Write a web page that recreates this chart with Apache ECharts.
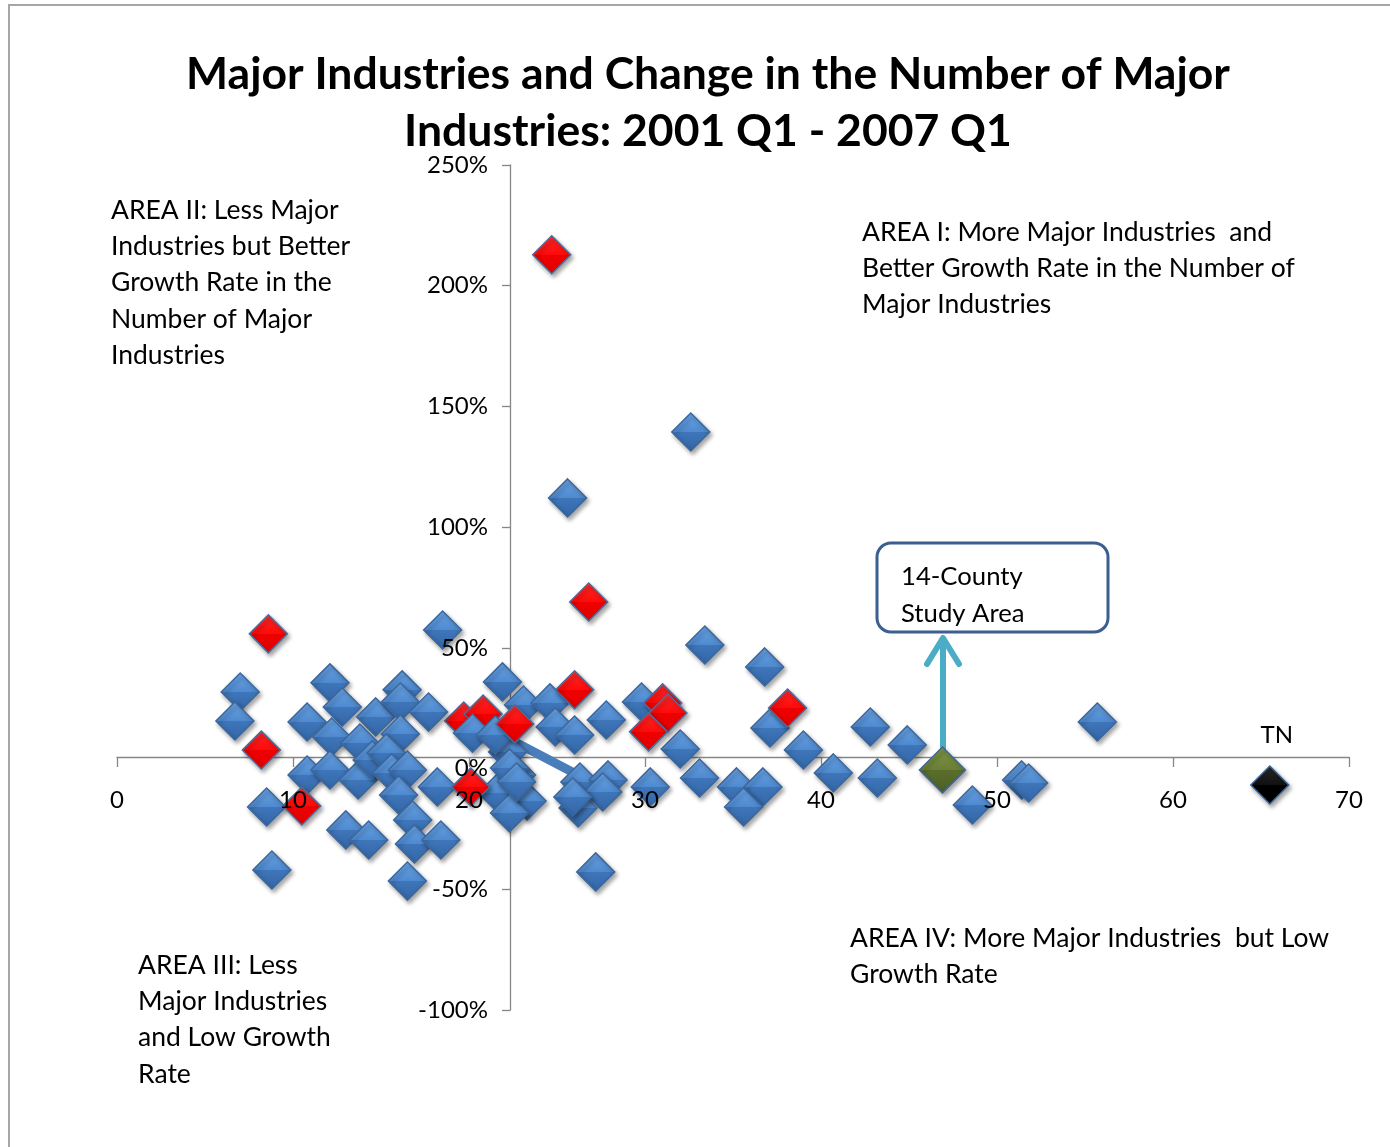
<!DOCTYPE html>
<html>
<head>
<meta charset="utf-8">
<script src="https://cdn.jsdelivr.net/npm/echarts@6/dist/echarts.min.js"></script>
<style>
html,body{margin:0;padding:0;background:#fff;}
#chart{width:1390px;height:1147px;}
</style>
</head>
<body>
<div id="chart"></div>
<script>
// ---------- data ----------
const xTicks = [0, 10, 20, 30, 40, 50, 60, 70];
const yTicks = [-100, -50, 0, 50, 100, 150, 200, 250];

// counties (blue)
const blueX = [32.6, 25.6, 18.5, 33.4, 36.8, 55.7, 42.8, 44.9, 7.0, 6.7,
  12.1, 12.8, 10.8, 12.2, 14.7, 16.2, 16.1, 17.7, 13.8, 16.1,
  20.2, 21.9, 23.1, 24.6, 24.9, 26.0, 27.8, 29.8, 32.0, 37.1,
  39.0, 22.2, 10.8, 12.1, 13.7, 14.5, 15.3, 15.6, 16.5, 16.0,
  18.2, 21.6, 22.7, 23.3, 22.3, 8.5, 13.0, 14.3, 16.8, 16.9,
  18.4, 8.8, 16.5, 22.3, 26.3, 27.9, 27.6, 26.2, 30.3, 27.2,
  33.1, 35.2, 36.7, 35.6, 40.7, 43.2, 48.6, 51.4, 51.8, 21.5,
  22.7, 25.9];
const blueY = [139.4, 112.1, 57.4, 51.2, 42.1, 19.3, 17.2, 9.8, 31.7, 19.7,
  35.5, 25.5, 19.3, 13.1, 21.4, 32.6, 27.6, 23.4, 10.6, 14.3,
  14.7, 35.9, 26.3, 27.2, 17.2, 13.9, 20.1, 27.6, 8.1, 16.8,
  7.7, 6.9, -2.7, -0.6, -4.7, 3.6, 6.5, -1.8, -0.6, -10.9,
  -7.6, -10.1, -2.7, -13.4, -18.4, -15.9, -25.4, -29.6, -21.3, -31.2,
  -29.6, -42.0, -46.6, 0.2, -5.6, -4.7, -9.7, -16.3, -7.6, -42.8,
  -3.9, -7.6, -7.6, -15.9, -1.8, -3.9, -15.1, -4.7, -6.0, 13.9,
  -5.6, -11.8];

// study-area counties (red), split by drawing order
const redBackX = [19.7, 20.8];
const redBackY = [19.7, 22.6];
const redFrontX = [24.7, 26.8, 8.6, 26.0, 8.2, 10.5, 20.1, 22.6, 31.0, 31.3, 30.2, 38.1];
const redFrontY = [212.8, 69.0, 55.8, 32.6, 7.7, -15.5, -7.6, 18.5, 27.2, 23.0, 15.2, 25.1];

// aggregates
const studyX = [46.9];
const studyY = [-0.6];
const tnX = [65.5];
const tnY = [-6.8];

// axis crossing values
const xCross = 22.33;  // vertical axis crosses here (x value)
const yCross = 4.8;    // horizontal axis crosses here (%)

// ---------- build ----------
const zip = (xs, ys) => xs.map((x, i) => [x, ys[i]]);
const FONT = 'Lato';

const G = {left: 117, right: 41, top: 165, bottom: 137};
const W = 1390 - G.left - G.right, H = 1147 - G.top - G.bottom;
const xMin = xTicks[0], xMax = xTicks[xTicks.length - 1];
const yMin = yTicks[0], yMax = yTicks[yTicks.length - 1];
const xOff = -((yCross - yMin) / (yMax - yMin)) * H;
const yOff = -((xCross - xMin) / (xMax - xMin)) * W;

const axisGray = '#868686';

const grad = (c0, c1, c2, c3) => ({
  type: 'linear', x: 0, y: 0, x2: 0, y2: 1,
  colorStops: [
    {offset: 0, color: c0}, {offset: 0.5, color: c1},
    {offset: 0.5, color: c2}, {offset: 1, color: c3}
  ]
});
const shadow = {shadowColor: 'rgba(0,0,0,0.35)', shadowBlur: 4, shadowOffsetX: 2, shadowOffsetY: 3};

const mk = (name, data, fill, border, z, size, extra) => Object.assign({
  name, type: 'scatter', data, symbol: 'diamond', symbolSize: size, z,
  xAxisIndex: 0, yAxisIndex: 0,
  itemStyle: Object.assign({color: fill, borderColor: border, borderWidth: 1.5, opacity: 1}, shadow),
  emphasis: {disabled: true}, silent: true, animation: false
}, extra || {});

const blueFill = grad('#6aa5e6', '#4f8ad0', '#3f76ba', '#3266a6');
const redFill = grad('#ff2a2a', '#ff0a0a', '#f00000', '#e00000');

const AF = '26.5px ' + FONT;

const option = {
  backgroundColor: '#fff',
  animation: false,
  title: {
    text: 'Major Industries and Change in the Number of Major\nIndustries: 2001 Q1 - 2007 Q1',
    left: 703, top: 41, textAlign: 'center',
    textStyle: {fontFamily: FONT, fontWeight: 'bold', fontSize: 44.5, lineHeight: 57, color: '#000'}
  },
  grid: {left: G.left, right: G.right, top: G.top, bottom: G.bottom, containLabel: false},
  xAxis: [
    {type: 'value', min: xMin, max: xMax, interval: 10, position: 'bottom', offset: xOff, z: 0,
      axisLine: {show: true, onZero: false, lineStyle: {color: axisGray, width: 1.3}},
      axisTick: {show: true, inside: false, length: 10, lineStyle: {color: axisGray, width: 1.3}},
      axisLabel: {show: false}, splitLine: {show: false}},
    {type: 'value', min: xMin, max: xMax, interval: 10, position: 'bottom', offset: xOff, z: 20,
      axisLine: {show: false, onZero: false}, axisTick: {show: false},
      axisLabel: {show: true, margin: 31, fontFamily: FONT, fontSize: 24, color: '#000'},
      splitLine: {show: false}}
  ],
  yAxis: [
    {type: 'value', min: yMin, max: yMax, interval: 50, position: 'left', offset: yOff, z: 0,
      axisLine: {show: true, onZero: false, lineStyle: {color: axisGray, width: 1.3}},
      axisTick: {show: true, inside: false, length: 8, lineStyle: {color: axisGray, width: 1.3}},
      axisLabel: {show: false}, splitLine: {show: false}},
    {type: 'value', min: yMin, max: yMax, interval: 50, position: 'left', offset: yOff, z: 20,
      axisLine: {show: false, onZero: false}, axisTick: {show: false},
      axisLabel: {show: true, margin: 22, fontFamily: FONT, fontSize: 24, color: '#000', formatter: '{value}%'},
      splitLine: {show: false}}
  ],
  series: [
    mk('Study county (back)', zip(redBackX, redBackY), redFill, '#4a6d9c', 2, 38),
    mk('County', zip(blueX, blueY), blueFill, '#3c679c', 3, 38),
    mk('Study county', zip(redFrontX, redFrontY), redFill, '#4a6d9c', 4, 38),
    mk('14-County Study Area', zip(studyX, studyY), grad('#7f9545', '#6a7f36', '#5a6e2c', '#4c5f24'), '#3c679c', 5, 46),
    mk('TN', zip(tnX, tnY), grad('#2a2a2a', '#111', '#000', '#000'), '#3c679c', 5, 38, {
      label: {show: true, position: 'top', distance: 18, offset: [7, 0], formatter: 'TN',
        fontFamily: FONT, fontSize: 24, color: '#000'}
    })
  ],
  graphic: [
    {type: 'rect', z: 0, silent: true, shape: {x: 9, y: 5, width: 1420, height: 1180},
      style: {fill: 'none', stroke: '#a6a6a6', lineWidth: 2}},
    {type: 'line', z: 1, silent: true, shape: {x1: 515, y1: 742, x2: 578, y2: 775},
      style: {stroke: '#4a7ebb', lineWidth: 9}},
    {type: 'line', z: 1, silent: true, shape: {x1: 943, y1: 752, x2: 943, y2: 640},
      style: {stroke: '#4bacc6', lineWidth: 6, lineCap: 'round'}},
    {type: 'polyline', z: 1, silent: true, shape: {points: [[927, 664], [943, 638], [959, 664]]},
      style: {stroke: '#4bacc6', fill: 'none', lineWidth: 6, lineCap: 'round', lineJoin: 'round'}},
    {type: 'rect', z: 30, silent: true, shape: {x: 877, y: 543, width: 231, height: 89, r: 14},
      style: {fill: '#fff', stroke: '#3b5f8e', lineWidth: 3}},
    {type: 'text', z: 31, silent: true, x: 901, y: 558,
      style: {text: '14-County\nStudy Area', font: '25.7px ' + FONT, fill: '#000', lineHeight: 37}},
    {type: 'text', z: 31, silent: true, x: 111, y: 192,
      style: {text: 'AREA II: Less Major\nIndustries but Better\nGrowth Rate in the\nNumber of Major\nIndustries',
        font: AF, fill: '#000', lineHeight: 36.3}},
    {type: 'text', z: 31, silent: true, x: 862, y: 214,
      style: {text: 'AREA I: More Major Industries  and\nBetter Growth Rate in the Number of\nMajor Industries',
        font: AF, fill: '#000', lineHeight: 36.3}},
    {type: 'text', z: 31, silent: true, x: 138, y: 947,
      style: {text: 'AREA III: Less\nMajor Industries\nand Low Growth\nRate',
        font: AF, fill: '#000', lineHeight: 36.3}},
    {type: 'text', z: 31, silent: true, x: 850, y: 920,
      style: {text: 'AREA IV: More Major Industries  but Low\nGrowth Rate',
        font: AF, fill: '#000', lineHeight: 36.3}}
  ]
};

const chart = echarts.init(document.getElementById('chart'), null, {renderer: 'canvas'});
chart.setOption(option);
</script>
</body>
</html>
